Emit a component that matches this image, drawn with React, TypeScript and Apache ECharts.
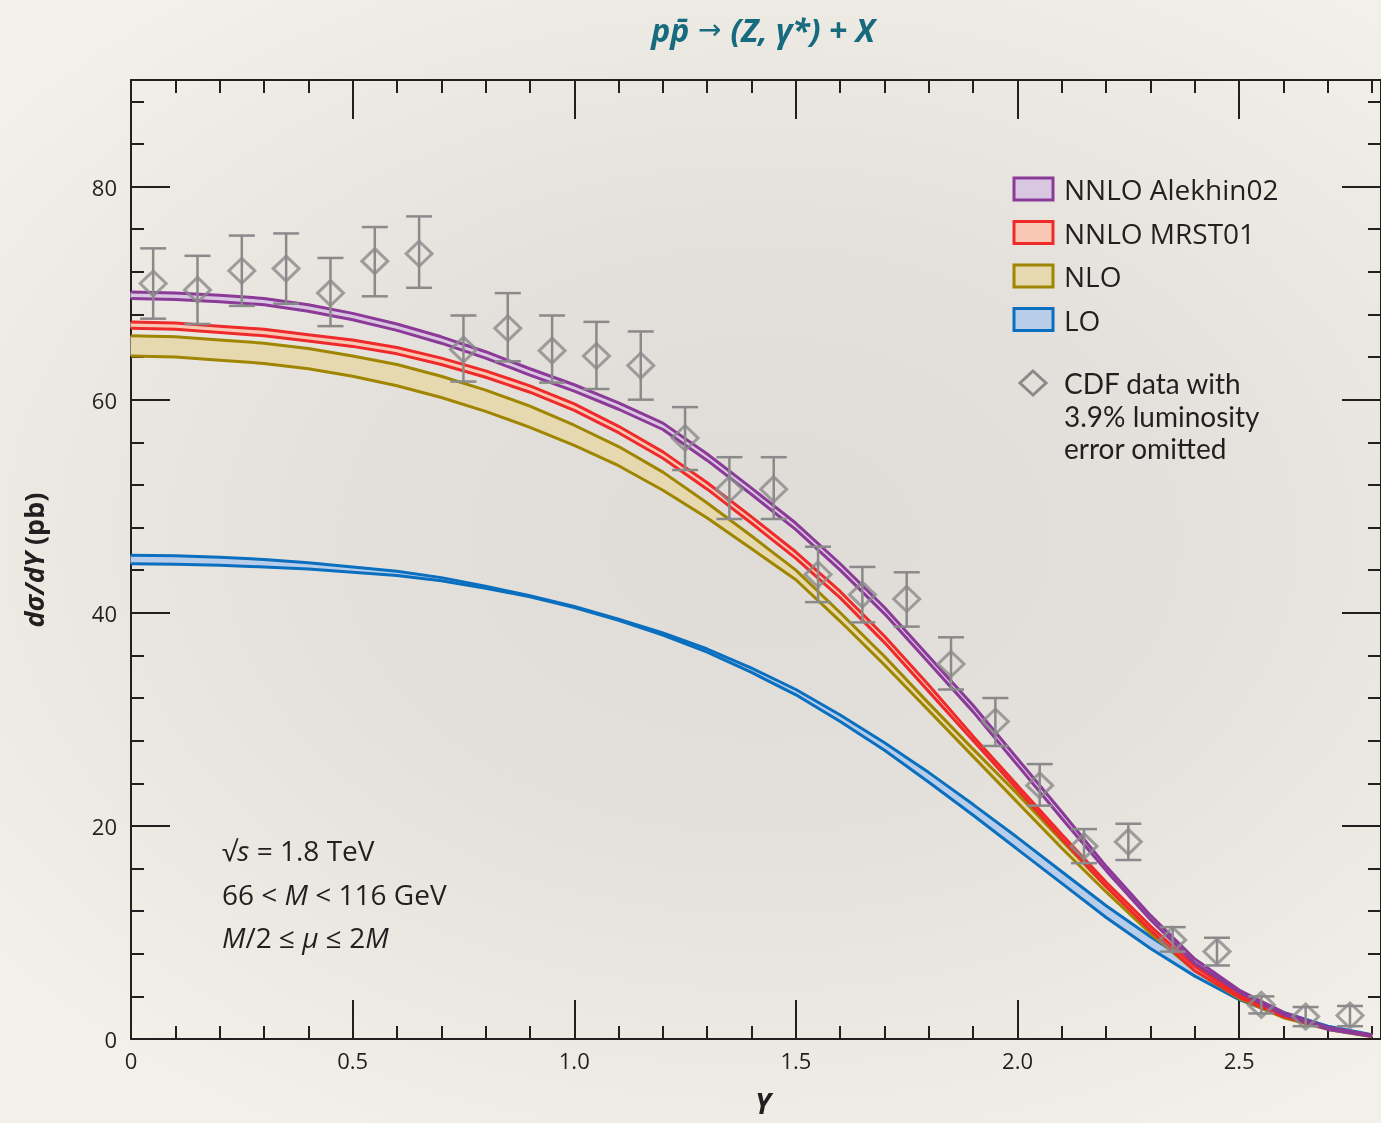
import React, { useEffect, useRef } from "react";
import * as echarts from "echarts";

const FONT = '"Open Sans", "Noto Sans", sans-serif';
const INK = "#231f20";

// rapidity grid for theory curves
const rapidity = [0, 0.1, 0.2, 0.3, 0.4, 0.5, 0.6, 0.7, 0.8, 0.9, 1.0, 1.1, 1.2, 1.3, 1.4, 1.5, 1.6, 1.7, 1.8, 1.9, 2.0, 2.1, 2.2, 2.3, 2.4, 2.5, 2.6, 2.7, 2.8];

// NNLO Alekhin02 band
const alekhinHi = [70.1, 70.0, 69.8, 69.5, 68.9, 68.1, 67.1, 65.9, 64.5, 62.9, 61.4, 59.7, 57.8, 54.9, 51.7, 48.4, 44.6, 40.5, 35.9, 31.3, 26.3, 21.3, 16.2, 11.6, 7.5, 4.6, 2.5, 1.1, 0.35];
const alekhinLo = [69.5, 69.4, 69.2, 68.9, 68.3, 67.5, 66.5, 65.3, 63.9, 62.3, 60.8, 59.1, 57.2, 54.3, 51.1, 47.8, 44.0, 39.9, 35.3, 30.7, 25.7, 20.7, 15.8, 11.2, 7.1, 4.4, 2.3, 0.9, 0.25];
// NNLO MRST01 band
const mrstHi = [67.3, 67.2, 66.9, 66.6, 66.1, 65.6, 64.9, 63.9, 62.7, 61.3, 59.6, 57.5, 55.1, 52.2, 49.0, 45.7, 42.0, 37.8, 33.2, 28.4, 23.8, 19.2, 14.7, 10.6, 6.8, 4.1, 2.3, 1.05, 0.35];
const mrstLo = [66.7, 66.6, 66.3, 66.0, 65.5, 65.0, 64.3, 63.3, 62.1, 60.7, 59.0, 56.9, 54.5, 51.6, 48.4, 45.1, 41.4, 37.2, 32.6, 28.0, 23.4, 18.8, 14.3, 10.2, 6.4, 3.9, 2.1, 0.95, 0.25];
// NLO band
const nloHi = [66.0, 65.9, 65.6, 65.3, 64.8, 64.1, 63.3, 62.2, 60.9, 59.4, 57.6, 55.6, 53.2, 50.3, 47.2, 44.0, 40.0, 35.9, 31.5, 27.2, 23.0, 18.6, 14.3, 10.3, 6.7, 4.0, 2.2, 1.0, 0.3];
const nloLo = [64.1, 64.0, 63.7, 63.4, 62.9, 62.2, 61.3, 60.2, 58.9, 57.4, 55.7, 53.8, 51.5, 48.9, 46.0, 43.1, 39.2, 35.1, 30.8, 26.5, 22.2, 17.9, 13.8, 9.9, 6.4, 3.8, 2.0, 0.9, 0.2];
// LO band
const loHi = [45.4, 45.35, 45.2, 45.0, 44.7, 44.3, 43.9, 43.3, 42.5, 41.6, 40.6, 39.4, 38.1, 36.6, 34.8, 32.8, 30.4, 27.8, 25.0, 22.0, 18.9, 15.7, 12.5, 9.6, 6.9, 4.4, 2.5, 1.2, 0.4];
const loLo = [44.6, 44.55, 44.45, 44.3, 44.1, 43.8, 43.5, 43.0, 42.3, 41.5, 40.5, 39.3, 37.9, 36.3, 34.4, 32.3, 29.8, 27.1, 24.1, 21.0, 17.8, 14.6, 11.4, 8.5, 5.9, 3.7, 2.1, 1.0, 0.3];

// CDF data
const dataY = [0.05, 0.15, 0.25, 0.35, 0.45, 0.55, 0.65, 0.75, 0.85, 0.95, 1.05, 1.15, 1.25, 1.35, 1.45, 1.55, 1.65, 1.75, 1.85, 1.95, 2.05, 2.15, 2.25, 2.35, 2.45, 2.55, 2.65, 2.75];
const dataVal = [70.9, 70.3, 72.1, 72.3, 70.0, 73.0, 73.7, 64.7, 66.7, 64.6, 64.1, 63.2, 56.4, 51.6, 51.6, 43.6, 41.7, 41.3, 35.2, 29.8, 23.8, 18.1, 18.5, 9.3, 8.2, 3.2, 2.1, 2.2];
const dataHi = [74.2, 73.5, 75.4, 75.6, 73.3, 76.2, 77.2, 67.9, 70.0, 67.9, 67.3, 66.4, 59.3, 54.6, 54.6, 46.2, 44.3, 43.8, 37.7, 32.0, 25.8, 19.7, 20.2, 10.5, 9.5, 4.0, 3.0, 3.1];
const dataLo = [67.6, 67.1, 68.8, 69.0, 66.9, 69.7, 70.5, 61.7, 63.6, 61.6, 61.0, 60.0, 53.4, 48.8, 48.8, 41.0, 39.1, 38.7, 32.8, 27.5, 21.9, 16.5, 16.8, 8.2, 6.9, 2.4, 1.2, 1.2];

const legendItems = [
  { name: "NNLO Alekhin02", line: "#8b3a98", fill: "#d9c6e0" },
  { name: "NNLO MRST01", line: "#ee2a2a", fill: "#f8c8b5" },
  { name: "NLO", line: "#9f8500", fill: "#e6d9b0" },
  { name: "LO", line: "#0a6fbf", fill: "#b8cdea" },
];
const dataLegend = ["CDF data with", "3.9% luminosity", "error omitted"];
const xTickLabels = ["0", "0.5", "1.0", "1.5", "2.0", "2.5"];

const X_MAX = 2.82;
const Y_MAX = 90;

function band(key: string, hi: number[], lo: number[], line: string, fill: string, z: number) {
  const segs: number[][] = [];
  for (let i = 0; i < rapidity.length - 1; i++) {
    segs.push([rapidity[i], lo[i], hi[i], rapidity[i + 1], lo[i + 1], hi[i + 1]]);
  }
  const lineSeries = (name: string, vals: number[]) => ({
    type: "line",
    name,
    data: rapidity.map((x, i) => [x, vals[i]]),
    symbol: "none",
    smooth: false,
    lineStyle: { color: line, width: 3 },
    z: z + 1,
    silent: true,
  });
  return [
    {
      type: "custom",
      name: key + " band",
      data: segs,
      encode: { x: [0, 3], y: [1, 2, 4, 5] },
      z,
      silent: true,
      renderItem: (_p: any, api: any) => {
        const a = api.coord([api.value(0), api.value(1)]);
        const b = api.coord([api.value(0), api.value(2)]);
        const c = api.coord([api.value(3), api.value(5)]);
        const d = api.coord([api.value(3), api.value(4)]);
        return {
          type: "polygon",
          shape: { points: [a, b, c, d] },
          style: { fill, stroke: fill, lineWidth: 1 },
        };
      },
    },
    lineSeries(key + " upper", hi),
    lineSeries(key + " lower", lo),
  ];
}

export default function App() {
  const ref = useRef<HTMLDivElement>(null);
  useEffect(() => {
    if (!ref.current) return;
    const chart = echarts.init(ref.current, undefined, { renderer: "svg" });
    const axisLineStyle = { color: INK, width: 2 };
    const xCommon = {
      type: "value",
      min: 0,
      max: X_MAX,
      interval: 0.5,
      axisLine: { show: true, onZero: false, lineStyle: axisLineStyle },
      axisTick: { show: true, inside: true, length: 39, lineStyle: axisLineStyle },
      minorTick: { show: true, splitNumber: 5, length: 13, lineStyle: axisLineStyle },
      splitLine: { show: false },
      minorSplitLine: { show: false },
    };
    const yCommon = {
      type: "value",
      min: 0,
      max: Y_MAX,
      interval: 20,
      axisLine: { show: true, onZero: false, lineStyle: axisLineStyle },
      axisTick: { show: true, inside: true, length: 39, lineStyle: axisLineStyle },
      minorTick: { show: true, splitNumber: 5, length: 13, lineStyle: axisLineStyle },
      splitLine: { show: false },
      minorSplitLine: { show: false },
    };

    const graphic: any[] = [];
    // title
    graphic.push({
      type: "text",
      x: 763,
      y: 29,
      style: {
        text: "{b|pp\u0304}{a| \u2192 }{b|(Z, \u03b3*) + X}",
        align: "center",
        verticalAlign: "middle",
        rich: {
          b: { fontSize: 32, fontWeight: "bold", fontStyle: "italic", fontFamily: FONT, fill: "#176b7f", color: "#176b7f", lineHeight: 40 },
          a: { fontSize: 28, fontFamily: "DejaVu Sans", fill: "#176b7f", color: "#176b7f", lineHeight: 40 },
        },
      },
    });
    // y axis name
    graphic.push({
      type: "text",
      x: 33,
      y: 560,
      rotation: Math.PI / 2,
      style: {
        text: "{i|d\u03c3/dY}{n| (pb)}",
        align: "center",
        verticalAlign: "middle",
        rich: {
          i: { fontSize: 27, fontWeight: "bold", fontStyle: "italic", fontFamily: FONT, fill: INK, color: INK },
          n: { fontSize: 27, fontWeight: "bold", fontFamily: FONT, fill: INK, color: INK },
        },
      },
    });
    // x axis name
    graphic.push({
      type: "text",
      x: 763,
      y: 1103,
      style: {
        text: "Y",
        align: "center",
        verticalAlign: "middle",
        font: `italic bold 28px ${FONT}`,
        lineHeight: 26,
        fill: INK,
      },
    });
    // legend
    legendItems.forEach((it, i) => {
      const cy = 189 + i * 43.5;
      graphic.push({
        type: "rect",
        shape: { x: 1014, y: cy - 11, width: 39, height: 22 },
        style: { fill: it.fill, stroke: it.line, lineWidth: 3 },
        z: 100,
      });
      graphic.push({
        type: "text",
        x: 1064,
        y: cy,
        style: { text: it.name, font: `28px ${FONT}`, lineHeight: 30, fill: INK, align: "left", verticalAlign: "middle" },
        z: 100,
      });
    });
    graphic.push({
      type: "polygon",
      shape: { points: [[1033, 371], [1046, 383], [1033, 395], [1020, 383]] },
      style: { fill: "none", stroke: "#8a8a8a", lineWidth: 3 },
      z: 100,
    });
    dataLegend.forEach((t, i) => {
      graphic.push({
        type: "text",
        x: 1064,
        y: 383 + i * 32.5,
        style: { text: t, font: `28px Lato, ${FONT}`, lineHeight: 32, fill: INK, align: "left", verticalAlign: "middle" },
        z: 100,
      });
    });
    // annotation
    const annRich = {
      i: { fontSize: 28, fontStyle: "italic", fontFamily: FONT, fill: INK, color: INK, lineHeight: 32 },
    };
    ["\u221a{i|s} = 1.8 TeV", "66 < {i|M} < 116 GeV", "{i|M}/2 \u2264 {i|\u03bc} \u2264 2{i|M}"].forEach((t, i) => {
      graphic.push({
        type: "text",
        x: 222,
        y: 850 + i * 43.5,
        style: {
          text: t,
          fontSize: 28,
          fontFamily: FONT,
          lineHeight: 32,
          fill: INK,
          align: "left",
          verticalAlign: "middle",
          rich: annRich,
        },
      });
    });

    const option: any = {
      animation: false,
      backgroundColor: "transparent",
      grid: { left: 131, top: 80, width: 1253, height: 959, containLabel: false },
      xAxis: [
        {
          ...xCommon,
          position: "bottom",
          axisLabel: {
            show: true,
            fontSize: 22,
            fontFamily: FONT,
            color: INK,
            margin: 10,
            showMaxLabel: false,
            formatter: (v: number) => {
              const idx = Math.round(v / 0.5);
              return Math.abs(v - idx * 0.5) < 1e-6 && idx < xTickLabels.length ? xTickLabels[idx] : "";
            },
          },
        },
        { ...xCommon, position: "top", axisLabel: { show: false } },
      ],
      yAxis: [
        {
          ...yCommon,
          position: "left",
          axisLabel: {
            show: true,
            fontSize: 22,
            fontFamily: FONT,
            color: INK,
            margin: 14,
            showMaxLabel: false,
            formatter: (v: number) => (v % 20 === 0 && v < Y_MAX ? String(v) : ""),
          },
        },
        { ...yCommon, position: "right", axisLabel: { show: false } },
      ],
      graphic,
      series: [
        ...band("LO", loHi, loLo, legendItems[3].line, legendItems[3].fill, 2),
        ...band("NLO", nloHi, nloLo, legendItems[2].line, legendItems[2].fill, 4),
        ...band("NNLO MRST01", mrstHi, mrstLo, legendItems[1].line, legendItems[1].fill, 6),
        ...band("NNLO Alekhin02", alekhinHi, alekhinLo, legendItems[0].line, legendItems[0].fill, 8),
        {
          type: "custom",
          name: "CDF errors",
          data: dataY.map((x, i) => [x, dataLo[i], dataHi[i]]),
          encode: { x: 0, y: [1, 2] },
          z: 12,
          silent: true,
          renderItem: (_p: any, api: any) => {
            const lo = api.coord([api.value(0), api.value(1)]);
            const hi = api.coord([api.value(0), api.value(2)]);
            const w = 13;
            const style = { stroke: "#8a8a8a", lineWidth: 2.5, fill: "none" };
            return {
              type: "group",
              children: [
                { type: "line", shape: { x1: lo[0], y1: lo[1], x2: hi[0], y2: hi[1] }, style },
                { type: "line", shape: { x1: hi[0] - w, y1: hi[1], x2: hi[0] + w, y2: hi[1] }, style },
                { type: "line", shape: { x1: lo[0] - w, y1: lo[1], x2: lo[0] + w, y2: lo[1] }, style },
              ],
            };
          },
        },
        {
          type: "scatter",
          name: "CDF data",
          data: dataY.map((x, i) => [x, dataVal[i]]),
          symbol: "diamond",
          symbolSize: [26, 25],
          itemStyle: { color: "rgba(0,0,0,0)", borderColor: "#8a8a8a", borderWidth: 3 },
          z: 13,
          silent: true,
        },
      ],
    };
    chart.setOption(option);
    return () => chart.dispose();
  }, []);

  return (
    <div
      ref={ref}
      style={{
        position: "fixed",
        left: 0,
        top: 0,
        width: 1381,
        height: 1123,
        background:
          "radial-gradient(ellipse 70% 60% at 55% 48%, #dfdcd7 0%, #e4e1dc 45%, #ece9e3 75%, #f3f0ea 100%)",
      }}
    />
  );
}
